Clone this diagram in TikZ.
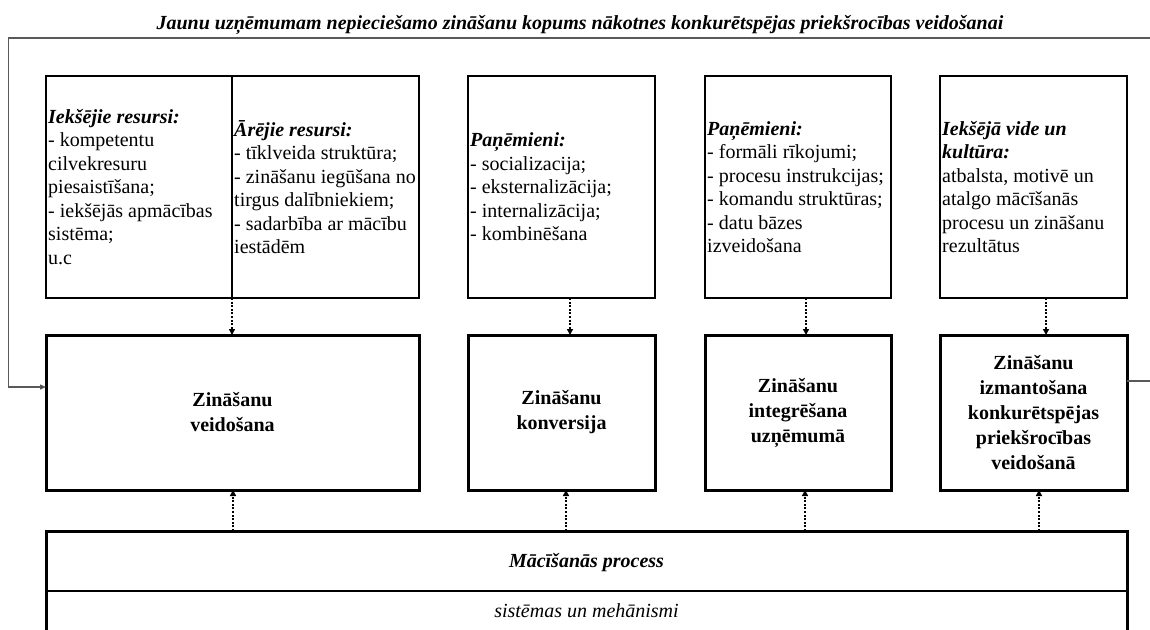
\documentclass[tikz,border=0pt]{standalone}
\usepackage{fontspec}
\setmainfont{Liberation Serif}
\usetikzlibrary{arrows.meta,calc}

\tikzset{
  inbox/.style={draw, line width=1.8pt, outer sep=0pt, inner sep=0pt,
    anchor=north west, minimum height=222pt},
  intext/.style={anchor=west, inner sep=0pt, align=left,
    font=\fontsize{20}{23.5}\selectfont},
  stage/.style={draw, line width=3pt, outer sep=0pt, anchor=north west,
    minimum height=155pt, align=center, font=\fontsize{20}{25}\selectfont\bfseries},
  flow/.style={line width=1.8pt, dash pattern=on 2pt off 1.6pt,
    -{Triangle[length=6pt,width=6pt]}},
  feedback/.style={line width=1.2pt, draw=black!65,
    -{Triangle[length=6pt,width=5pt,fill=black!80]}},
}

\begin{document}
\begin{tikzpicture}[x=1pt,y=-1pt]
\useasboundingbox (0,0) rectangle (1150,629);

% title
\node[font=\fontsize{20}{24}\selectfont\bfseries\itshape, anchor=base, inner sep=0pt]
  (title) at (580,29) {Jaunu uzņēmumam nepieciešamo zināšanu kopums nākotnes konkurētspējas priekšrocības veidošanai};

% resources and methods
\node[inbox, minimum width=186pt] (res1) at (46,76) {};
\node[inbox, minimum width=187pt] (res2) at (232,76) {};
\node[inbox, minimum width=187pt] (tB) at (468,76) {};
\node[inbox, minimum width=186pt] (tC) at (705,76) {};
\node[inbox, minimum width=187pt] (tD) at (940,76) {};

\node[intext] (res1t) at ($(res1.west)+(2,0)$)
  {\textbf{\textit{Iekšējie resursi:}}\\- kompetentu\\cilvekresuru\\piesaistīšana;\\- iekšējās apmācības\\sistēma;\\u.c};
\node[intext] (res2t) at ($(res2.west)+(2,0)$)
  {\textbf{\textit{Ārējie resursi:}}\\- tīklveida struktūra;\\- zināšanu iegūšana no\\tirgus dalībniekiem;\\- sadarbība ar mācību\\iestādēm};
\node[intext] (tBt) at ($(tB.west)+(2,0)$)
  {\textbf{\textit{Paņēmieni:}}\\- socializacija;\\- eksternalizācija;\\- internalizācija;\\- kombinēšana};
\node[intext] (tCt) at ($(tC.west)+(2,0)$)
  {\textbf{\textit{Paņēmieni:}}\\- formāli rīkojumi;\\- procesu instrukcijas;\\- komandu struktūras;\\- datu bāzes\\izveidošana};
\node[intext] (tDt) at ($(tD.west)+(2,0)$)
  {\textbf{\textit{Iekšējā vide un}}\\\textbf{\textit{kultūra:}}\\atbalsta, motivē un\\atalgo mācīšanās\\procesu un zināšanu\\rezultātus};

% knowledge stages
\node[stage, minimum width=373pt] (mA) at (46,335) {Zināšanu\\veidošana};
\node[stage, minimum width=187pt] (mB) at (468,335) {Zināšanu\\konversija};
\node[stage, minimum width=186pt] (mC) at (705,335) {Zināšanu\\integrēšana\\uzņēmumā};
\node[stage, minimum width=187pt] (mD) at (940,335)
  {Zināšanu\\izmantošana\\konkurētspējas\\priekšrocības\\veidošanā};

% learning process frame
\node[anchor=north west, minimum width=1081pt, minimum height=60pt, outer sep=0pt,
  inner sep=0pt] (learn) at (46,531) {};
\draw[line width=3pt] ($(learn.south west)+(0,60)$) -- (learn.north west)
  -- (learn.north east) -- ($(learn.south east)+(0,60)$);
\draw[line width=2pt] (learn.south west) -- (learn.south east);
\node[anchor=base, inner sep=0pt, font=\fontsize{20}{24}\selectfont\bfseries\itshape]
  (learnt) at ($(learn.north)+(0,36)$) {Mācīšanās process};
\node[anchor=base, inner sep=0pt, font=\fontsize{20}{24}\selectfont\itshape]
  (sys) at ($(learn.south)+(0,26)$) {sistēmas un mehānismi};

% downward links
\draw[flow] (res1.south east) -- (res1.south east |- mA.north);
\draw[flow] ($(tB.south)+(8.5,0)$) -- ($(mB.north)+(8.5,0)$);
\draw[flow] ($(tC.south)+(8,0)$) -- ($(mC.north)+(8,0)$);
\draw[flow] ($(tD.south)+(12.5,0)$) -- ($(mD.north)+(12.5,0)$);

% upward links
\draw[flow] ($(mA.south |- learn.north)+(0.5,0)$) -- ($(mA.south)+(0.5,0)$);
\draw[flow] ($(mB.south |- learn.north)+(4.5,0)$) -- ($(mB.south)+(4.5,0)$);
\draw[flow] ($(mC.south |- learn.north)+(7,0)$) -- ($(mC.south)+(7,0)$);
\draw[flow] ($(mD.south |- learn.north)+(5.5,0)$) -- ($(mD.south)+(5.5,0)$);

% feedback loop
\coordinate (corner) at (8.5,38);
\draw[feedback] ($(mD.east)+(0,-31.5)$) -- ++(30,0) |- (corner) |- ($(mA.west)+(0,-25.5)$);
\end{tikzpicture}
\end{document}
